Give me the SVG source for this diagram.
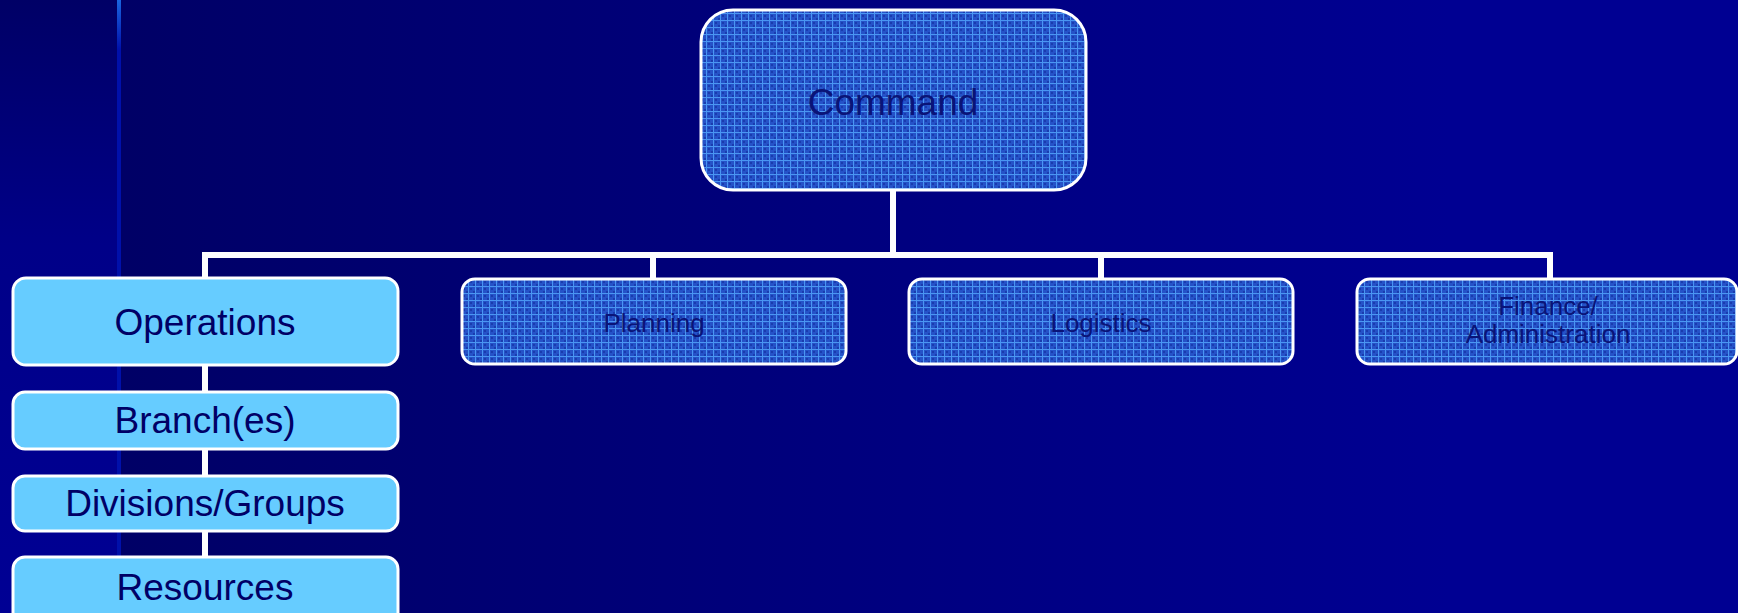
<svg xmlns="http://www.w3.org/2000/svg" width="1738" height="613" viewBox="0 0 1738 613">
<defs>
<linearGradient id="bgMain" gradientUnits="userSpaceOnUse" x1="120" y1="0" x2="1450" y2="0">
<stop offset="0" stop-color="#000066"/>
<stop offset="1" stop-color="#000092"/>
</linearGradient>
<linearGradient id="bgLeft" gradientUnits="userSpaceOnUse" x1="0" y1="0" x2="0" y2="613">
<stop offset="0" stop-color="#000066"/>
<stop offset="0.4" stop-color="#000088"/>
<stop offset="1" stop-color="#000094"/>
</linearGradient>
<linearGradient id="strip" gradientUnits="userSpaceOnUse" x1="0" y1="0" x2="0" y2="50">
<stop offset="0" stop-color="#1a66e0"/>
<stop offset="1" stop-color="#0010aa"/>
</linearGradient>
<pattern id="grid" patternUnits="userSpaceOnUse" width="7" height="7">
<rect width="7" height="7" fill="#2552c8"/>
<rect x="1" y="1" width="2" height="2" fill="#1a3cae"/>
<rect x="4" y="4" width="2" height="2" fill="#1a3cae"/>
<rect x="0" y="6" width="7" height="1" fill="#4a96f2"/>
<rect x="6" y="0" width="1" height="7" fill="#4a96f2"/>
</pattern>
</defs>
<style>
.pat{fill:url(#grid);stroke:#ffffff;stroke-width:3}
.lite{fill:#66ccff;stroke:#ffffff;stroke-width:3}
.conn{stroke:#ffffff;stroke-width:6;fill:none}
text{font-family:"Liberation Sans",Arial,sans-serif;text-anchor:middle}
.tp{fill:#0a1478}
.tl{fill:#000066;font-size:37px}
.ts{font-size:26px}
</style>
<rect x="0" y="0" width="1738" height="613" fill="url(#bgMain)"/>
<rect x="0" y="0" width="118" height="613" fill="url(#bgLeft)"/>
<rect x="117" y="0" width="4" height="613" fill="#0010aa"/>
<rect x="117" y="0" width="4" height="50" fill="url(#strip)"/>
<g id="connectors">
<path class="conn" d="M893 190 V255 M205 255 H1550 M205 252 V560 M653 255 V280 M1101 255 V280 M1550 252 V280"/>
</g>
<g id="command">
<rect class="pat" x="701" y="10" width="385" height="180" rx="32"/>
<text class="tp" x="893" y="115" font-size="37">Command</text>
</g>
<g id="planning">
<rect class="pat" x="462" y="279" width="384" height="85" rx="13"/>
<text class="tp ts" x="654" y="332">Planning</text>
</g>
<g id="logistics">
<rect class="pat" x="909" y="279" width="384" height="85" rx="13"/>
<text class="tp ts" x="1101" y="332">Logistics</text>
</g>
<g id="finance">
<rect class="pat" x="1357" y="279" width="380" height="85" rx="13"/>
<text class="tp ts" x="1548" y="315">Finance/</text>
<text class="tp ts" x="1548" y="343">Administration</text>
</g>
<g id="operations">
<rect class="lite" x="13" y="278" width="385" height="87" rx="13"/>
<text class="tl" x="205" y="335">Operations</text>
</g>
<g id="branches">
<rect class="lite" x="13" y="392" width="385" height="57" rx="12"/>
<text class="tl" x="205" y="433">Branch(es)</text>
</g>
<g id="divisions">
<rect class="lite" x="13" y="476" width="385" height="55" rx="12"/>
<text class="tl" x="205" y="516">Divisions/Groups</text>
</g>
<g id="resources">
<rect class="lite" x="13" y="557" width="385" height="80" rx="12"/>
<text class="tl" x="205" y="600">Resources</text>
</g>
</svg>
